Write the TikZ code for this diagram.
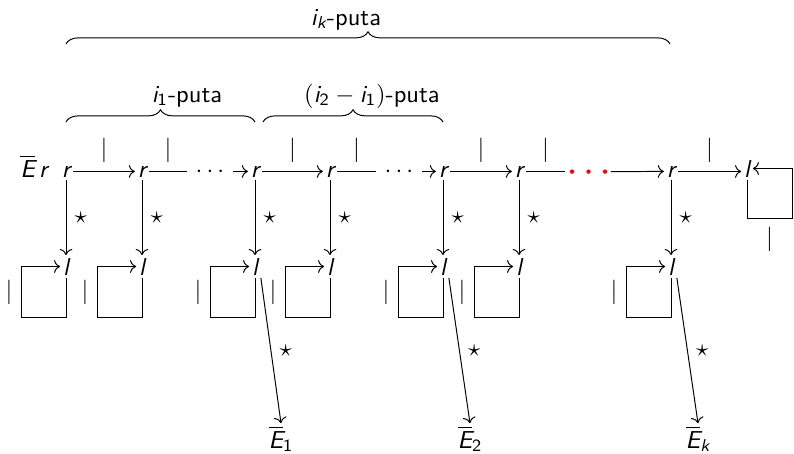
\documentclass[tikz,border=0pt]{standalone}
\usepackage{amsmath}
\usetikzlibrary{arrows.meta,decorations.pathreplacing}
\renewcommand{\familydefault}{\sfdefault}
\newcommand{\sv}[1]{\text{\sffamily\slshape #1}}
\begin{document}
\begin{tikzpicture}[x=0.408pt,y=-0.408pt,
  >={Computer Modern Rightarrow},
  obj/.style={inner sep=1pt, anchor=base},
  bar/.style={inner sep=3.3pt},
  brc/.style={decorate, decoration={brace, amplitude=5pt}}]
\useasboundingbox (0,0) rectangle (794,453);

% braces and their labels
\draw[brc] (66,44) -- (670,44);
\node[anchor=base] (tk) at (346,25) {$\sv{i}_{\sv{k}}$-puta};
\draw[brc] (66,122) -- (255,122);
\node[anchor=base] (t1) at (187,102) {$\sv{i}_{\text{1}}$-puta};
\draw[brc] (263,122) -- (443,122);
\node[anchor=base] (t2) at (372,102) {$(\sv{i}_{\text{2}} - \sv{i}_{\text{1}})$-puta};

% top row
\node[obj] (Er) at (34,177) {$\overline{\sv{E}}\,\sv{r}$};
\node[obj] (r1) at (66,177) {$\sv{r}$};
\node[obj] (r2) at (142,177) {$\sv{r}$};
\node[obj] (r3) at (255,177) {$\sv{r}$};
\node[obj] (r4) at (330,177) {$\sv{r}$};
\node[obj] (r5) at (443,177) {$\sv{r}$};
\node[obj] (r6) at (519,177) {$\sv{r}$};
\node[obj] (r7) at (671,177) {$\sv{r}$};
\node[obj] (l8) at (747,177) {$\sv{l}$};
\node[obj,inner sep=1.5pt] (d1) at (212,177) {$\cdots$};
\node[obj,inner sep=1.5pt] (d2) at (401,177) {$\cdots$};
\coordinate (s2) at (187,171.6);
\coordinate (s4) at (376,171.6);
\coordinate (s6) at (565,171.6);
\coordinate (rd) at (611,171.6);

% bottom row
\node[obj] (l1) at (66,275) {$\sv{l}$};
\node[obj] (l2) at (142,275) {$\sv{l}$};
\node[obj] (l3) at (255,275) {$\sv{l}$};
\node[obj] (l4) at (330,275) {$\sv{l}$};
\node[obj] (l5) at (443,275) {$\sv{l}$};
\node[obj] (l6) at (519,275) {$\sv{l}$};
\node[obj] (l7) at (671,275) {$\sv{l}$};

% E nodes
\node[obj] (E1) at (281,448) {$\overline{\sv{E}}_{\text{1}}$};
\node[obj] (E2) at (470,448) {$\overline{\sv{E}}_{\text{2}}$};
\node[obj] (Ek) at (698,448) {$\overline{\sv{E}}_{\sv{k}}$};

% horizontal connectors
\draw[->] (r1.east) -- node[bar,above]{$|$} (r2.west);
\draw (r2.east) -- node[bar,above]{$|$} (r2.east -| s2);
\draw[->] (d1.east |- r3.west) -- (r3.west);
\draw[->] (r3.east) -- node[bar,above]{$|$} (r4.west);
\draw (r4.east) -- node[bar,above]{$|$} (r4.east -| s4);
\draw[->] (d2.east |- r5.west) -- (r5.west);
\draw[->] (r5.east) -- node[bar,above]{$|$} (r6.west);
\draw (r6.east) -- node[bar,above]{$|$} (r6.east -| s6);
\fill[red] (572,171.6) circle (0.9pt) (588.5,171.6) circle (0.9pt) (605,171.6) circle (0.9pt);
\draw[->] (rd) -- (r7.west);
\draw[->] (r7.east) -- node[bar,above]{$|$} (r7.east -| l8.west);

% top-right loop
\draw[->] (l8.south) -- ++(0,38.5) -- node[bar,below]{$|$} ++(45,0) |- (l8.east);

% vertical connectors
\foreach \a/\b in {r1/l1,r2/l2,r3/l3,r4/l4,r5/l5,r6/l6,r7/l7}
  \draw[->] (\a) -- node[right]{$\star$} (\b);

% bottom loops
\foreach \n in {l1,l2,l3,l4,l5,l6,l7}
  \draw[->] (\n.south) -- ++(0,40) -- ++(-45,0) |- node[bar,pos=0.25,left]{$|$} (\n.west);

% diagonal connectors
\draw[->] (l3.south east) -- node[right]{$\star$} (E1.north);
\draw[->] (l5.south east) -- node[right]{$\star$} (E2.north);
\draw[->] (l7.south east) -- node[right]{$\star$} (Ek.north);
\end{tikzpicture}
\end{document}
